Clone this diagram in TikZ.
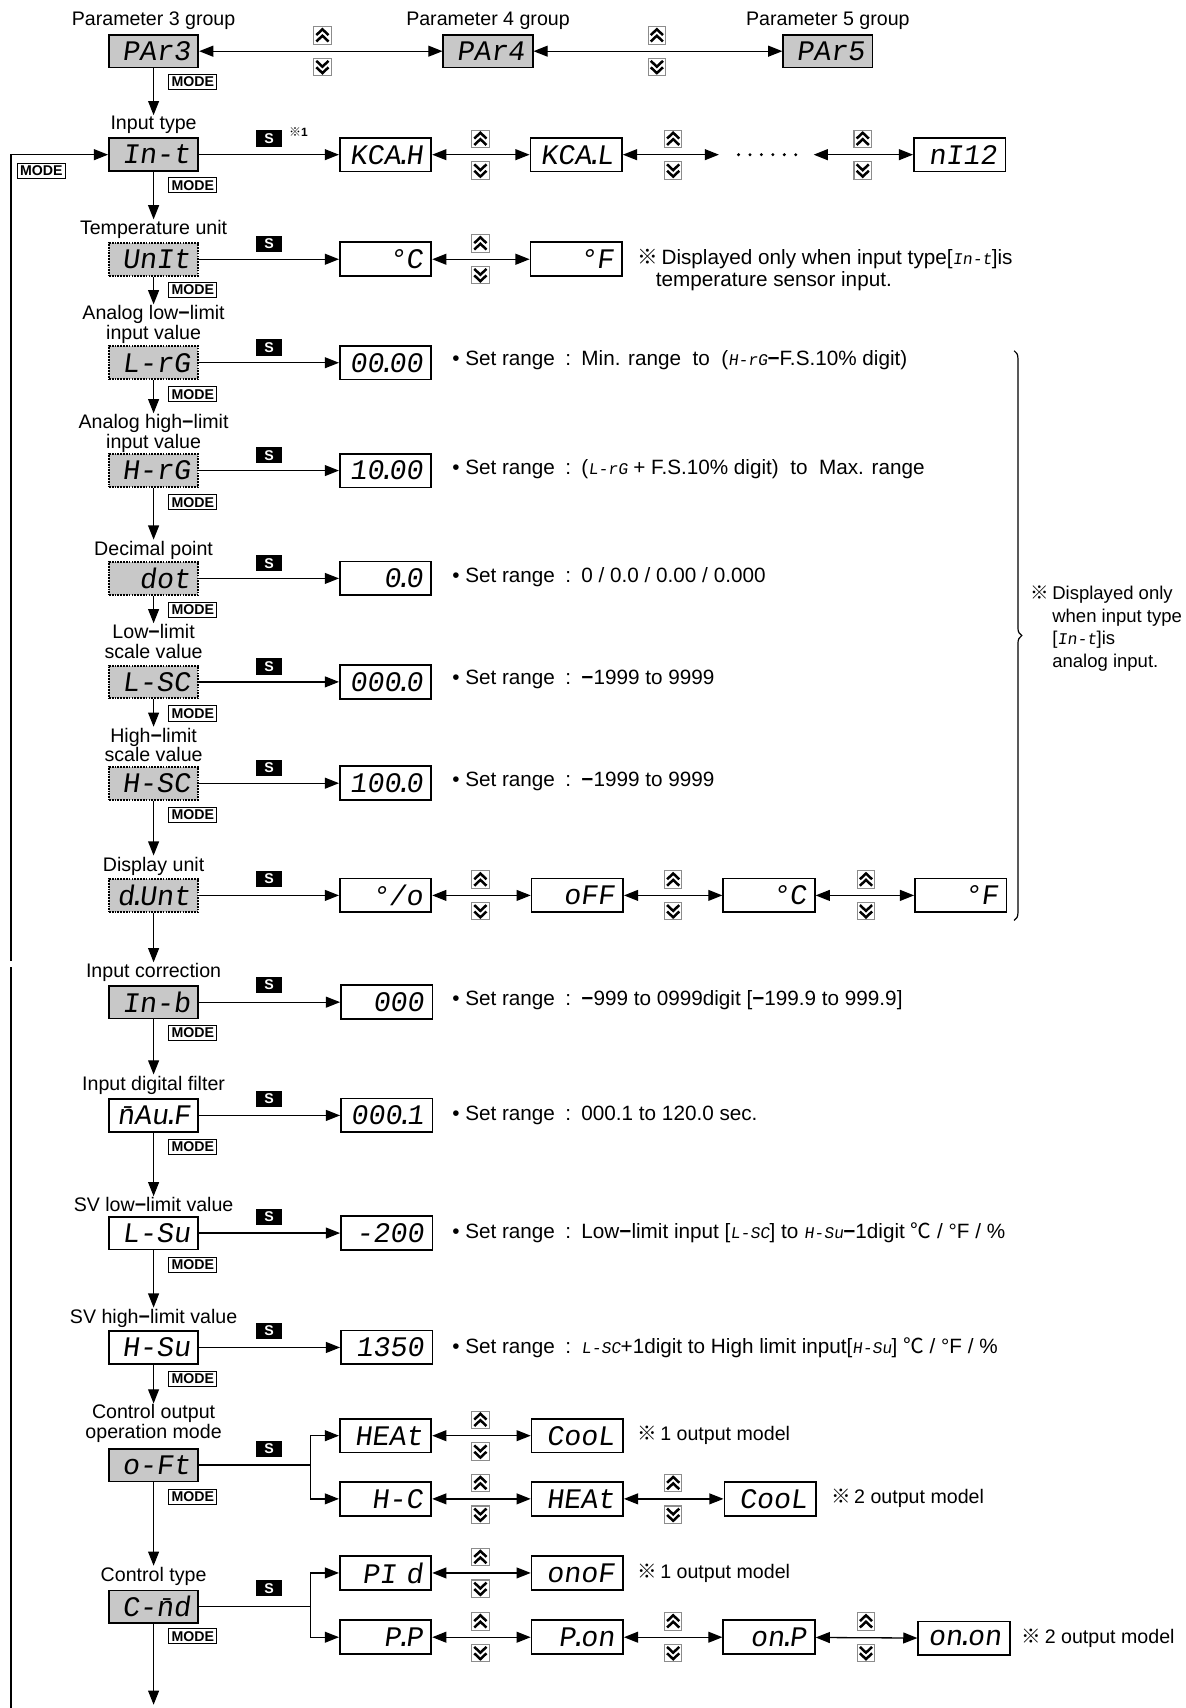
\documentclass[tikz,border=0pt]{standalone}
\usepackage{fontspec}
\setmainfont{Liberation Sans}
\newfontfamily\segfont[FakeSlant=0.14]{Liberation Mono}
\newfontfamily\segifont[FakeSlant=0.14]{Liberation Mono}
\newfontfamily\cjk{Noto Sans CJK SC}
\usetikzlibrary{arrows.meta,decorations.pathreplacing,calc}
\definecolor{boxgray}{RGB}{200,200,200}
\definecolor{keygray}{RGB}{140,140,140}
\newcommand\segdot{\kern-5.5pt.\kern-5.5pt}
\newcommand\segtxt[1]{{\segifont\fontsize{15}{15}\selectfont #1}}
\newcommand\refmark{{\cjk ※}}
\newcommand\keypair[2]{\pic at ([yshift=14.5pt]#1,#2) {upkey}; \pic at ([yshift=-14.5pt]#1,#2) {downkey};}
\tikzset{
 segtext/.style={font=\segfont\fontsize{26}{26}\selectfont},
 pbox/.style={segtext, draw, line width=1.6pt, fill=boxgray, minimum width=82pt, minimum height=30pt, text width=67pt, align=right, inner sep=0pt},
 dbox/.style={pbox, densely dotted, line width=1.8pt},
 wbox/.style={pbox, fill=white},
 vbox/.style={wbox, minimum width=84pt, minimum height=31pt, text width=68pt},
 labeltext/.style={font=\fontsize{18}{18}\selectfont, align=center, inner sep=1pt},
 notetext/.style={font=\fontsize{19}{20}\selectfont, anchor=west, inner sep=0pt},
 outnote/.style={font=\fontsize{18}{20}\selectfont, anchor=west, inner sep=0pt},
 modekey/.style={draw, line width=0.9pt, font=\bfseries\fontsize{13}{13}\selectfont, inner sep=1.5pt, minimum height=14pt, minimum width=44pt, fill=white},
 skey/.style={fill=black, text=white, font=\bfseries\fontsize{13}{13}\selectfont, minimum width=24pt, minimum height=15pt, inner sep=0pt},
 arrowlink/.style={line width=1.2pt, -{Triangle[length=13pt,width=10pt]}},
 dblink/.style={line width=1.2pt, {Triangle[length=13pt,width=10pt]}-{Triangle[length=13pt,width=10pt]}},
 plainlink/.style={line width=1.2pt},
 upkey/.pic={
  \draw[keygray, line width=1pt, fill=white] (-8,-8) rectangle (8,8);
  \draw[line width=2.3pt, line join=miter] (-5.6,-0.3) -- (0,-5.6) -- (5.6,-0.3);
  \draw[line width=2.3pt, line join=miter] (-5.6,5.6) -- (0,0.3) -- (5.6,5.6);
 },
 downkey/.pic={
  \draw[keygray, line width=1pt, fill=white] (-8,-8) rectangle (8,8);
  \draw[line width=2.3pt, line join=miter] (-5.6,0.3) -- (0,5.6) -- (5.6,0.3);
  \draw[line width=2.3pt, line join=miter] (-5.6,-5.6) -- (0,-0.3) -- (5.6,-5.6);
 }
}
\begin{document}
\begin{tikzpicture}[x=1pt,y=-1pt]
\useasboundingbox (0,0) rectangle (1088,1568);

% ---------- parameter groups ----------
\node[labeltext] (g3l) at (141,19) {Parameter 3 group};
\node[pbox] (par3) at (141,47) {PAr3};
\node[labeltext] (g4l) at (448,19) {Parameter 4 group};
\node[pbox] (par4) at (448,47) {PAr4};
\node[labeltext] (g5l) at (760,19) {Parameter 5 group};
\node[pbox] (par5) at (760,47) {PAr5};
\draw[dblink] (par3) -- (par4);
\draw[dblink] (par4) -- (par5);
\keypair{296}{47}
\keypair{603}{47}
\node[modekey] (m0) at (177,75) {MODE};

% ---------- input type ----------
\node[labeltext] (l1) at (141,115) {Input type};
\node[pbox] (int) at (141,142) {In-t};
\draw[arrowlink] (par3) -- (l1);
\node[skey] (s1) at (247,127) {S};
\node[font=\bfseries\fontsize{11}{11}\selectfont, inner sep=0pt] (r1) at (274,121) {\refmark1};
\node[vbox] (kcah) at (354,142) {KCA\segdot H};
\node[vbox] (kcal) at (529,142) {KCA\segdot L};
\node[vbox] (ni12) at (881,142) {nI12};
\coordinate (e1) at (660,142);
\coordinate (e2) at (747,142);
\foreach \i in {0,...,5} \fill (678+\i*10.5,142) circle (1.5);
\draw[arrowlink] (int) -- (kcah);
\draw[dblink] (kcah) -- (kcal);
\draw[dblink] (kcal) -- (e1);
\draw[dblink] (e2) -- (ni12);
\keypair{441}{142}
\keypair{618}{142}
\keypair{792}{142}
\node[modekey] (m1) at (177,170) {MODE};

% loop back line
\coordinate (lb) at (10,1568);
\coordinate (lg1) at (10,888);
\coordinate (lg2) at (10,882);
\draw[plainlink] (lb) -- (lg1);
\draw[arrowlink] (lg2) |- (int);
\node[modekey] (mloop) at (38,157) {MODE};

% ---------- temperature unit ----------
\node[labeltext] (l2) at (141,211) {Temperature unit};
\node[dbox] (unit) at (141,238) {UnIt};
\draw[arrowlink] (int) -- (l2);
\node[skey] (s2) at (247,224) {S};
\node[vbox] (uc) at (354,238) {°C};
\node[vbox] (uf) at (529,238) {°F};
\draw[arrowlink] (unit) -- (uc);
\draw[dblink] (uc) -- (uf);
\keypair{441}{238}
\node[notetext] (t2a) at (585,238) {\refmark\,Displayed only when input type[\segtxt{In-t}]is};
\node[notetext] (t2b) at (602,258) {temperature sensor input.};
\node[modekey] (m2) at (177,266) {MODE};

% ---------- analog low-limit ----------
\node[labeltext] (l3) at (141,298) {Analog low{\bfseries −}limit\\input value};
\node[dbox] (lrg) at (141,333) {L-rG};
\draw[arrowlink] (unit) -- (l3);
\node[skey] (s3) at (247,319) {S};
\node[vbox] (v3) at (354,333) {00\segdot00};
\draw[arrowlink] (lrg) -- (v3);
\node[notetext] (t3) at (415,331) {•\ Set range\enspace:\enspace Min. range\ \ to\ \ (\segtxt{H-rG}{\bfseries −}F.S.10\% digit)};
\node[modekey] (m3) at (177,362) {MODE};

% ---------- analog high-limit ----------
\node[labeltext] (l4) at (141,398) {Analog high{\bfseries −}limit\\input value};
\node[dbox] (hrg) at (141,432) {H-rG};
\draw[arrowlink] (lrg) -- (l4);
\node[skey] (s4) at (247,418) {S};
\node[vbox] (v4) at (354,432) {10\segdot00};
\draw[arrowlink] (hrg) -- (v4);
\node[notetext] (t4) at (415,431) {•\ Set range\enspace:\enspace(\segtxt{L-rG} + F.S.10\% digit)\ \ to\ \ Max. range};
\node[modekey] (m4) at (177,461) {MODE};

% ---------- decimal point ----------
\node[labeltext] (l5) at (141,505) {Decimal point};
\node[dbox] (dot) at (141,531) {dot};
\draw[arrowlink] (hrg) -- (l5);
\node[skey] (s5) at (247,517) {S};
\node[vbox] (v5) at (354,531) {0\segdot0};
\draw[arrowlink] (dot) -- (v5);
\node[notetext] (t5) at (415,530) {•\ Set range\enspace:\enspace 0 / 0.0 / 0.00 / 0.000};
\node[modekey] (m5) at (177,560) {MODE};

% ---------- low-limit scale ----------
\node[labeltext] (l6) at (141,589) {Low{\bfseries −}limit\\scale value};
\node[dbox] (lsc) at (141,626) {L-SC};
\draw[arrowlink] (dot) -- (l6);
\node[skey] (s6) at (247,612) {S};
\node[vbox] (v6) at (354,626) {000\segdot0};
\draw[arrowlink] (lsc) -- (v6);
\node[notetext] (t6) at (415,624) {•\ Set range\enspace:\enspace{\bfseries −}1999 to 9999};
\node[modekey] (m6) at (177,655) {MODE};

% ---------- high-limit scale ----------
\node[labeltext] (l7) at (141,684) {High{\bfseries −}limit\\scale value};
\node[dbox] (hsc) at (141,719) {H-SC};
\draw[arrowlink] (lsc) -- (l7);
\node[skey] (s7) at (247,705) {S};
\node[vbox] (v7) at (354,719) {100\segdot0};
\draw[arrowlink] (hsc) -- (v7);
\node[notetext] (t7) at (415,717) {•\ Set range\enspace:\enspace{\bfseries −}1999 to 9999};
\node[modekey] (m7) at (177,748) {MODE};

% ---------- display unit ----------
\node[labeltext] (l8) at (141,795) {Display unit};
\node[dbox] (dunt) at (141,822) {d\segdot Unt};
\draw[arrowlink] (hsc) -- (l8);
\node[skey] (s8) at (247,807) {S};
\node[vbox] (d1) at (354,822) {°/o};
\node[vbox] (d2) at (530,822) {oFF};
\node[vbox] (d3) at (706,822) {°C};
\node[vbox] (d4) at (882,822) {°F};
\draw[arrowlink] (dunt) -- (d1);
\draw[dblink] (d1) -- (d2);
\draw[dblink] (d2) -- (d3);
\draw[dblink] (d3) -- (d4);
\keypair{441}{822}
\keypair{618}{822}
\keypair{795}{822}

% brace
\coordinate (br1) at (931,322);
\coordinate (br2) at (931,845);
\draw[line width=1.1pt, decorate, decoration={brace, amplitude=7pt}] (br1) -- (br2);
\node[font=\fontsize{17}{20.7}\selectfont, anchor=west, align=left, inner sep=0pt] (tb) at (946,577)
 {\refmark\,Displayed only\\\hphantom{\refmark\,}when input type\\\hphantom{\refmark\,}[\segtxt{In-t}]is\\\hphantom{\refmark\,}analog input.};

% ---------- input correction ----------
\node[labeltext] (l9) at (141,893) {Input correction};
\node[pbox] (inb) at (141,920) {In-b};
\draw[arrowlink] (dunt) -- (l9);
\node[skey] (s9) at (247,904) {S};
\node[vbox] (v9) at (355,920) {000};
\draw[arrowlink] (inb) -- (v9);
\node[notetext] (t9) at (415,918) {•\ Set range\enspace:\enspace{\bfseries −}999 to 0999digit [{\bfseries −}199.9 to 999.9]};
\node[modekey] (m9) at (177,948) {MODE};

% ---------- input digital filter ----------
\node[labeltext] (l10) at (141,996) {Input digital filter};
\node[wbox] (mavf) at (141,1024) {\=nAu\segdot F};
\draw[arrowlink] (inb) -- (l10);
\node[skey] (s10) at (247,1009) {S};
\node[vbox] (v10) at (355,1024) {000\segdot1};
\draw[arrowlink] (mavf) -- (v10);
\node[notetext] (t10) at (415,1024) {•\ Set range\enspace:\enspace 000.1 to 120.0 sec.};
\node[modekey] (m10) at (177,1053) {MODE};

% ---------- SV low-limit ----------
\node[labeltext] (l11) at (141,1106) {SV low{\bfseries −}limit value};
\node[wbox] (lsv) at (141,1132) {L-Su};
\draw[arrowlink] (mavf) -- (l11);
\node[skey] (s11) at (247,1117) {S};
\node[vbox] (v11) at (355,1132) {-200};
\draw[arrowlink] (lsv) -- (v11);
\node[notetext] (t11) at (415,1132) {•\ Set range\enspace:\enspace Low{\bfseries −}limit input [\segtxt{L-SC}] to \segtxt{H-Su}{\bfseries −}1digit {\cjk ℃} / °F / \%};
\node[modekey] (m11) at (177,1161) {MODE};

% ---------- SV high-limit ----------
\node[labeltext] (l12) at (141,1210) {SV high{\bfseries −}limit value};
\node[wbox] (hsv) at (141,1237) {H-Su};
\draw[arrowlink] (lsv) -- (l12);
\node[skey] (s12) at (247,1222) {S};
\node[vbox] (v12) at (355,1237) {1350};
\draw[arrowlink] (hsv) -- (v12);
\node[notetext] (t12) at (415,1237) {•\ Set range\enspace:\enspace\segtxt{L-SC}+1digit to High limit input[\segtxt{H-Su}] {\cjk ℃} / °F / \%};
\node[modekey] (m12) at (177,1266) {MODE};

% ---------- control output operation mode ----------
\node[labeltext] (l13) at (141,1307) {Control output\\operation mode};
\node[pbox] (oft) at (141,1345) {o-Ft};
\draw[arrowlink] (hsv) -- (l13);
\node[skey] (s13) at (247,1330) {S};
\coordinate (b1) at (285,1345);
\node[vbox] (o1) at (354,1318) {HEAt};
\node[vbox] (o2) at (530,1318) {CooL};
\node[vbox] (o3) at (354,1376) {H-C};
\node[vbox] (o4) at (530,1376) {HEAt};
\node[vbox] (o5) at (707,1376) {CooL};
\draw[plainlink] (oft) -- (b1);
\draw[arrowlink] (b1) |- (o1);
\draw[arrowlink] (b1) |- (o3);
\draw[dblink] (o1) -- (o2);
\draw[dblink] (o3) -- (o4);
\draw[dblink] (o4) -- (o5);
\keypair{441}{1318}
\keypair{441}{1376}
\keypair{618}{1376}
\node[outnote] (t13a) at (585,1318) {\refmark\,1 output model};
\node[outnote] (t13b) at (763,1375) {\refmark\,2 output model};
\node[modekey] (m13) at (177,1374) {MODE};

% ---------- control type ----------
\node[labeltext] (l14) at (141,1447) {Control type};
\node[pbox] (cmd) at (141,1475) {C-\=nd};
\draw[arrowlink] (oft) -- (l14);
\node[skey] (s14) at (247,1458) {S};
\coordinate (b2) at (285,1475);
\node[vbox] (c1) at (354,1444) {PI d};
\node[vbox] (c2) at (530,1444) {onoF};
\node[vbox] (c3) at (354,1503) {P\segdot P};
\node[vbox] (c4) at (530,1503) {P\segdot on};
\node[vbox] (c5) at (706,1503) {on\segdot P};
\node[vbox] (c6) at (885,1504) {on\segdot on};
\draw[plainlink] (cmd) -- (b2);
\draw[arrowlink] (b2) |- (c1);
\draw[arrowlink] (b2) |- (c3);
\draw[dblink] (c1) -- (c2);
\draw[dblink] (c3) -- (c4);
\draw[dblink] (c4) -- (c5);
\draw[dblink] (c5) -- (c6);
\keypair{441}{1444}
\keypair{441}{1503}
\keypair{618}{1503}
\keypair{795}{1503}
\node[outnote] (t14a) at (585,1444) {\refmark\,1 output model};
\node[outnote] (t14b) at (938,1504) {\refmark\,2 output model};
\node[modekey] (m14) at (177,1502) {MODE};
\coordinate (fin) at (141,1565);
\draw[arrowlink] (cmd) -- (fin);
\end{tikzpicture}
\end{document}
